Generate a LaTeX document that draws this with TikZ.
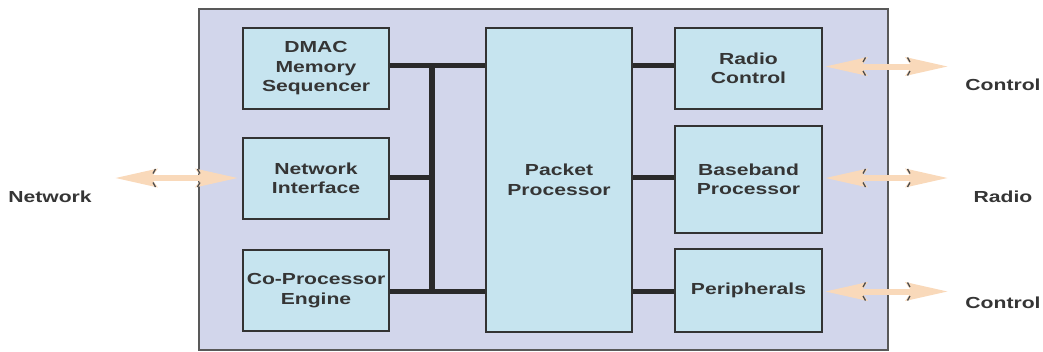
\documentclass[tikz,border=0pt]{standalone}
\usepackage{fontspec}
\setmainfont{Liberation Sans}[FakeStretch=1.32]
\usetikzlibrary{arrows.meta,calc}
\definecolor{outerfill}{HTML}{D2D6EB}
\definecolor{boxfill}{HTML}{C6E4EF}
\definecolor{boxline}{HTML}{333333}
\definecolor{busline}{HTML}{2A2A2A}
\definecolor{txt}{HTML}{353535}
\definecolor{peach}{HTML}{F9D9BA}
\newcommand\barbticks[2]{%
  \draw[barbtick] ($(#1)+(38,-4.5)$) -- ($(#1)+(40.5,-9)$);
  \draw[barbtick] ($(#1)+(38,4.5)$) -- ($(#1)+(40.5,9)$);
  \draw[barbtick] ($(#2)+(-38,-4.5)$) -- ($(#2)+(-40.5,-9)$);
  \draw[barbtick] ($(#2)+(-38,4.5)$) -- ($(#2)+(-40.5,9)$);}
\begin{document}
\begin{tikzpicture}[x=1pt,y=-1pt,
  blk/.style={draw=boxline, line width=2.2pt, fill=boxfill, align=center, inner sep=0pt,
    text=txt, font=\fontsize{16}{19.5}\selectfont\bfseries},
  lbl/.style={text=txt, font=\fontsize{16}{19.5}\selectfont\bfseries, inner sep=0pt},
  bus/.style={draw=busline, line width=5pt},
  vbus/.style={draw=busline, line width=6pt},
  barbtick/.style={draw=black!70, line width=1.3pt},
  bigarrow/.style={draw=peach, line width=6pt,
    {Stealth[length=42pt,width=18pt,inset=6pt]}-{Stealth[length=42pt,width=18pt,inset=6pt]}}
]
\useasboundingbox (0,0) rectangle (1043,351);
% outer chip
\node[draw=black!65, line width=1.5pt, fill=outerfill, minimum width=689pt, minimum height=341pt, inner sep=0pt] (chip) at (543.5,179.5) {};
% blocks
\node[blk, minimum width=146pt, minimum height=81pt] (dmac) at (316,68.5) {DMAC\\Memory\\Sequencer};
\node[blk, minimum width=146pt, minimum height=81pt] (net) at (316,178.5) {Network\\Interface};
\node[blk, minimum width=146pt, minimum height=81pt] (cop) at (316,290.5) {Co-Processor\\Engine};
\node[blk, minimum width=146pt, minimum height=304pt] (pp) at (559,180) {Packet\\Processor};
\node[blk, minimum width=147pt, minimum height=81pt] (rc) at (748.5,68.5) {Radio\\Control};
\node[blk, minimum width=147pt, minimum height=107pt] (bb) at (748.5,179.5) {Baseband\\Processor};
\node[blk, minimum width=147pt, minimum height=83pt] (per) at (748.5,290.5) {Peripherals};
% bus coordinates
\coordinate (bt) at (432,65.5);
\coordinate (bm) at (432,177);
\coordinate (bb2) at (432,291);
\draw[vbus] (bt) -- (bb2);
\draw[bus] (dmac.east |- bt) -- (pp.west |- bt);
\draw[bus] (net.east |- bm) -- (bm);
\draw[bus] (cop.east |- bb2) -- (pp.west |- bb2);
\draw[bus] (pp.east |- bt) -- (rc.west |- bt);
\draw[bus] (pp.east |- bm) -- (bb.west |- bm);
\draw[bus] (pp.east |- bb2) -- (per.west |- bb2);
% external arrows
\coordinate (nl) at (115,178);
\coordinate (nr) at (238,178);
\coordinate (r1a) at (825,66.5);
\coordinate (r1b) at (948,66.5);
\coordinate (r2a) at (825,178);
\coordinate (r2b) at (948,178);
\coordinate (r3a) at (825,291.5);
\coordinate (r3b) at (948,291.5);
\draw[bigarrow] (nl) -- (nr);
\draw[bigarrow] (r1a) -- (r1b);
\draw[bigarrow] (r2a) -- (r2b);
\draw[bigarrow] (r3a) -- (r3b);
\barbticks{nl}{nr}
\barbticks{r1a}{r1b}
\barbticks{r2a}{r2b}
\barbticks{r3a}{r3b}
% labels
\node[lbl] (lnet) at (50,197) {Network};
\node[lbl] (lc1) at (1003,85) {Control};
\node[lbl] (lrad) at (1003,197) {Radio};
\node[lbl] (lc2) at (1003,303) {Control};
\end{tikzpicture}
\end{document}
